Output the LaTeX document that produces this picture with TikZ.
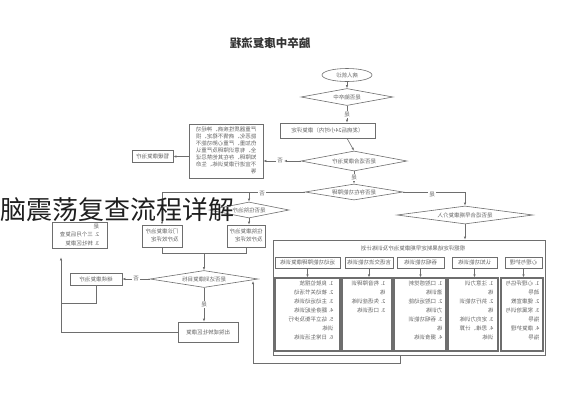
\documentclass[tikz,border=0pt]{standalone}
\usepackage{fontspec}
\usepackage{graphicx}
\setmainfont{Noto Sans CJK SC}
\usetikzlibrary{shapes.geometric,arrows.meta}
\definecolor{lc}{HTML}{6E6E6E}
\definecolor{tc}{HTML}{666666}
\newcommand{\mt}[1]{\reflectbox{#1}}
\newcommand{\ml}[1]{\reflectbox{\begin{tabular}{@{}l@{}}#1\end{tabular}}}
\begin{document}
\begin{tikzpicture}[x=1pt,y=-1pt,
  every node/.style={inner sep=0pt, text=tc, font=\fontsize{5.5}{7}\selectfont},
  box/.style={draw=lc, line width=0.6pt, rectangle},
  dia/.style={draw=lc, line width=0.6pt, diamond},
  arr/.style={draw=lc, line width=0.6pt, -{Latex[length=3pt,width=2.4pt]}},
  ln/.style={draw=lc, line width=0.6pt},
  lab/.style={fill=white, inner sep=1pt},
  colbox/.style={draw=lc, line width=1.1pt, rectangle},
  coltext/.style={anchor=north east, font=\fontsize{5.5}{9}\selectfont},
]
\useasboundingbox (0,0) rectangle (565,400);
\fill[white] (0,0) rectangle (565,400);

% title
\node[font=\fontsize{11.5}{12}\selectfont\bfseries, text=black!80] (title) at (270,43) {\mt{脑卒中康复流程}};

% main axis
\node[draw=lc, line width=0.6pt, ellipse, minimum width=50pt, minimum height=13pt] (start) at (347,75) {\mt{病人就诊}};
\node[dia, minimum width=92pt, minimum height=17pt, aspect=5.4] (d1) at (347,97) {\mt{是否脑卒中}};
\node[box, minimum width=95pt, minimum height=15pt] (r1) at (327.5,130.5) {\mt{（发病后24小时内）康复评定}};
\node[dia, minimum width=106pt, minimum height=20pt, aspect=5.3] (d2) at (354,161) {\mt{是否适合康复治疗}};
\node[dia, minimum width=98pt, minimum height=16pt, aspect=6.1] (d3) at (354,192) {\mt{是否存在功能障碍}};
\node[dia, minimum width=136pt, minimum height=18pt, aspect=7.56] (d4) at (465,215) {\mt{是否适合早期康复介入}};

\draw[arr] (start) -- (d1);
\draw[arr] (d1.south) -- (d1.south |- r1.north) node[lab, midway] {\mt{是}};
\draw[arr] (d1.south |- r1.south) -- (d2.north);
\draw[arr] (d2.south) -- (d3.north) node[lab, midway] {\mt{是}};

% contraindication branch
\node[box, minimum width=74pt, minimum height=54pt] (big) at (226,151) {\ml{严重器质性疾病、神经功\\能恶化、病情不稳定、损\\伤加重、严重心肺功能不\\全、有意识障碍及严重认\\知障碍、存在其他禁忌证\\不宜进行康复训练、生命\\等}};
\node[box, minimum width=41pt, minimum height=12pt] (small) at (152.5,156.5) {\mt{暂缓康复治疗}};
\node[lab] (lno1) at (280,161) {\mt{否}};
\draw[arr] (d2.west) -- (lno1);
\draw[arr] (lno1) -- (big.east |- lno1);
\draw[arr] (big.west |- small.east) -- (small.east);

% right branch
\coordinate (rb) at (465,192);
\draw[ln] (d3.east) -- (rb);
\draw[arr] (rb) -- (d4.north);
\node[lab] (lyes3) at (432,195) {\mt{是}};

% container
\node[box, minimum width=272pt, minimum height=115pt] (cont) at (409,297.5) {};
\draw[arr] (d4.south) -- (d4.south |- cont.north);
\node (hdr) at (413,248) {\mt{根据评定结果制定早期康复治疗及训练计划}};

\node[box, minimum width=65pt, minimum height=11pt] (h1) at (307.5,262.5) {\mt{运动功能障碍康复训练}};
\node[box, minimum width=48pt, minimum height=11pt] (h2) at (369,262.5) {\mt{言语交流功能训练}};
\node[box, minimum width=47pt, minimum height=11pt] (h3) at (420.5,262.5) {\mt{吞咽功能训练}};
\node[box, minimum width=45pt, minimum height=11pt] (h4) at (474.5,262.5) {\mt{认知功能训练}};
\node[box, minimum width=37pt, minimum height=11pt] (h5) at (523.5,262.5) {\mt{心理与护理}};

\node[colbox, minimum width=65pt, minimum height=73pt] (c1) at (307.5,314.5) {};
\node[colbox, minimum width=50pt, minimum height=73pt] (c2) at (367,314.5) {};
\node[colbox, minimum width=52pt, minimum height=73pt] (c3) at (420,314.5) {};
\node[colbox, minimum width=50pt, minimum height=73pt] (c4) at (473,314.5) {};
\node[colbox, minimum width=42pt, minimum height=73pt] (c5) at (522,314.5) {};

\foreach \i in {1,...,5} {\draw[arr] (h\i.south) -- (h\i.south |- c\i.north);}

\node[coltext] (t1) at ([xshift=-7pt,yshift=-2pt]c1.north east) {\ml{1. 良肢位摆放\\2. 被动关节活动\\3. 主动运动训练\\4. 翻身坐起训练\\5. 站立平衡及步行\\训练\\6. 日常生活训练}};
\node[coltext] (t2) at ([xshift=-7pt,yshift=-2pt]c2.north east) {\ml{1. 构音障碍训\\练\\2. 失语症训练\\3. 口语训练}};
\node[coltext] (t3) at ([xshift=-4pt,yshift=-2pt]c3.north east) {\ml{1. 口腔感觉刺\\激训练\\2. 口腔运动能\\力训练\\3. 吞咽功能训\\练\\4. 摄食训练}};
\node[coltext] (t4) at ([xshift=-5pt,yshift=-2pt]c4.north east) {\ml{1. 注意力训\\练\\2. 执行功能训\\练\\3. 定向力训练\\4. 思维、计算\\训练}};
\node[coltext] (t5) at ([xshift=-4pt,yshift=-2pt]c5.north east) {\ml{1. 心理评估与\\疏导\\2. 健康宣教\\3. 家属培训与\\指导\\4. 康复护理\\指导}};

% left branch
\coordinate (lj) at (249,192);
\coordinate (la) at (162,192);
\node[dia, minimum width=80pt, minimum height=16pt, aspect=5] (d5) at (249,210) {\mt{是否住院治疗}};
\node[box, minimum width=38pt, minimum height=22pt, font=\fontsize{5.5}{8}\selectfont] (boxB) at (246,236) {\ml{住院康复治疗\\及疗效评定}};
\node[box, minimum width=40pt, minimum height=22pt, font=\fontsize{5.5}{8}\selectfont] (boxA) at (162,236) {\ml{门诊康复治疗\\及疗效评定}};
\draw[ln] (d3.west) -- (la);
\draw[arr] (la) -- (boxA.north);
\draw[arr] (lj) -- (d5.north);
\node[lab] (lno3) at (262,194) {\mt{否}};
\draw[arr] (d5.south) -- (d5.south |- boxB.north);

\coordinate (m1) at (162,253);
\coordinate (m2) at (246,253);
\coordinate (m3) at (204,253);
\draw[ln] (boxA.south) -- (m1) -- (m2) -- (boxB.south);

\node[dia, minimum width=108pt, minimum height=17pt, aspect=6.35] (d6) at (204,279) {\mt{是否达到康复目标}};
\draw[arr] (m3) -- (d6.north);

\node[box, minimum width=52pt, minimum height=12pt] (boxC) at (96,279) {\mt{继续康复治疗}};
\draw[arr] (d6.west) -- (boxC.east) node[lab, midway] {\mt{否}};

\node[box, minimum width=60pt, minimum height=20pt] (boxE) at (208,332) {\mt{出院或转社区康复}};
\draw[arr] (d6.south) -- (d6.south |- boxE.north) node[lab, midway] {\mt{是}};

\node[box, minimum width=55pt, minimum height=26pt, font=\fontsize{5.5}{8.5}\selectfont] (boxD) at (79.5,235) {\ml{是\\2. 三个月后复查\\3. 转社区康复}};

\coordinate (c1a) at (96,303);
\coordinate (c1b) at (61,303);
\draw[ln] (boxC.south) -- (c1a) -- (c1b);
\coordinate (e1) at (61,332);
\draw[arr, shorten >=9pt] (boxE.west) -- (e1) -- (e1 |- boxD.south);

% feedback loop from container
\coordinate (fb1) at (400,363);
\coordinate (fb2) at (253,363);
\coordinate (fb3) at (253,281);
\draw[arr] (cont.south -| fb1) -- (fb1) -- (fb2) -- (fb3);

% overlay caption
\node[anchor=west, font=\fontsize{26}{26}\selectfont, text=black!88] (ov) at (0,210) {脑震荡复查流程详解};
\end{tikzpicture}
\end{document}
